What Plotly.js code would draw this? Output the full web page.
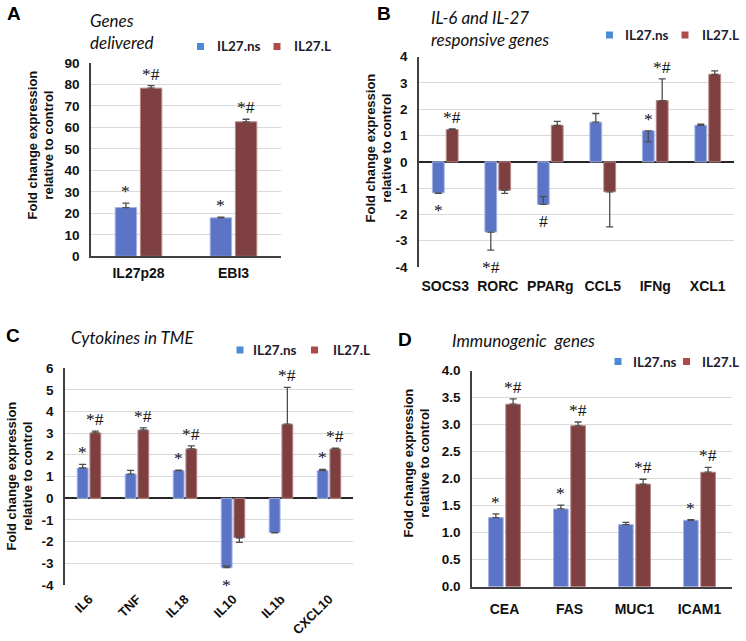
<!DOCTYPE html>
<html><head><meta charset="utf-8">
<script src="https://cdn.plot.ly/plotly-3.0.1.min.js"></script>
<style>html,body{margin:0;padding:0;background:#fff}#chart{width:746px;height:641px}</style>
</head><body><div id="chart"></div>
<script>
// ---------- DATA ----------
// Panel A: Genes delivered
const catA = ['IL27p28', 'EBI3'];
const nsA = [22.7, 17.9];
const nsAplus = [2.1, 0.3];
const nsAminus = [0, 0];
const lA = [78.3, 62.6];
const lAplus = [1.2, 1.2];
const lAminus = [0, 0];
const sigNsA = ['*', '*'];
const sigLA = ['*#', '*#'];
const ticksA = [0, 10, 20, 30, 40, 50, 60, 70, 80, 90];

// Panel B: IL-6 and IL-27 responsive genes
const catB = ['SOCS3', 'RORC', 'PPARg', 'CCL5', 'IFNg', 'XCL1'];
const nsB = [-1.18, -2.67, -1.62, 1.51, 1.18, 1.39];
const nsBplus = [0, 0, 0.30, 0.33, 0, 0.04];
const nsBminus = [0.02, 0.69, 0, 0, 0.42, 0];
const lB = [1.23, -1.08, 1.39, -1.14, 2.33, 3.33];
const lBplus = [0.02, 0, 0.15, 0, 0.83, 0.13];
const lBminus = [0, 0.12, 0, 1.33, 0, 0];
const sigNsB = ['*', '*#', '#', '', '*', ''];
const sigLB = ['*#', '', '', '', '*#', ''];
const ticksB = [-4, -3, -2, -1, 0, 1, 2, 3, 4];

// Panel C: Cytokines in TME
const catC = ['IL6', 'TNF', 'IL18', 'IL10', 'IL1b', 'CXCL10'];
const nsC = [1.40, 1.12, 1.28, -3.20, -1.58, 1.28];
const nsCplus = [0.17, 0.17, 0.02, 0.08, 0, 0.06];
const nsCminus = [0, 0, 0, 0, 0.01, 0];
const lC = [3.02, 3.15, 2.28, -1.82, 3.42, 2.28];
const lCplus = [0.08, 0.10, 0.14, 0, 1.70, 0.04];
const lCminus = [0, 0, 0, 0.21, 0, 0];
const sigNsC = ['*', '', '*', '*', '', '*'];
const sigLC = ['*#', '*#', '*#', '', '*#', '*#'];
const ticksC = [-4, -3, -2, -1, 0, 1, 2, 3, 4, 5, 6];

// Panel D: Immunogenic genes
const catD = ['CEA', 'FAS', 'MUC1', 'ICAM1'];
const nsD = [1.28, 1.44, 1.15, 1.23];
const nsDplus = [0.07, 0.07, 0.04, 0.01];
const nsDminus = [0, 0, 0, 0];
const lD = [3.38, 2.98, 1.90, 2.12];
const lDplus = [0.10, 0.07, 0.09, 0.09];
const lDminus = [0, 0, 0, 0];
const sigNsD = ['*', '*', '', '*'];
const sigLD = ['*#', '*#', '*#', '*#'];
const ticksD = [0, 0.5, 1, 1.5, 2, 2.5, 3, 3.5, 4];

const seriesNames = ['IL27.ns', 'IL27.L'];
const yTitle = 'Fold change expression<br>relative to control';

// ---------- STYLE / LAYOUT ----------
const W = 746, H = 641;
const fx = p => p / W;
const fy = p => 1 - p / H;
const SANS = 'Liberation Sans, Arial, sans-serif';
const SERIF = 'Liberation Serif, Times New Roman, serif';
const BLUE = '#5b74c6', BLUE_EDGE = '#a3b3e4';
const RED = '#7e3f40', RED_EDGE = '#b88888';
const LEG_BLUE = '#4a8ad6', LEG_RED = '#b04a4a';
const BARGAP = 0.47, GROUPGAP = 0.15;
const OFF = (1 - BARGAP) / 4;

const panels = [
  {key: '', cats: catA, ns: nsA, nsP: nsAplus, nsM: nsAminus, l: lA, lP: lAplus, lM: lAminus,
   sNs: sigNsA, sL: sigLA, box: [91, 281, 63, 256.3], range: [0, 90], tv: ticksA, dec: 0,
   base: true, ang: 0, xs: 3, xf: 14, letter: 'A', lpos: [5, 13.5], sub: 'Genes<br>delivered', spos: [88, 31.5],
   ytp: [40.5, 145], leg: [197, 215, 273.5, 291.5, 46.5]},
  {key: '2', cats: catB, ns: nsB, nsP: nsBplus, nsM: nsBminus, l: lB, lP: lBplus, lM: lBminus,
   sNs: sigNsB, sL: sigLB, box: [419, 734, 56.7, 267], range: [-4, 4], tv: ticksB, dec: 0,
   base: false, ang: 0, xs: 9, xf: 14, letter: 'B', lpos: [375, 13.5], sub: 'IL-6 and IL-27<br>responsive genes', spos: [429, 28],
   ytp: [378.5, 148], leg: [606, 623, 681.5, 700, 35]},
  {key: '3', cats: catC, ns: nsC, nsP: nsCplus, nsM: nsCminus, l: lC, lP: lCplus, lM: lCminus,
   sNs: sigNsC, sL: sigLC, box: [65, 353, 368.3, 585], range: [-4, 6], tv: ticksC, dec: 0,
   base: false, ang: -45, xs: 3, xf: 13, letter: 'C', lpos: [4, 335.5], sub: 'Cytokines in TME', spos: [69, 337],
   ytp: [19.5, 476], leg: [236.5, 250.5, 311, 331, 350]},
  {key: '4', cats: catD, ns: nsD, nsP: nsDplus, nsM: nsDminus, l: lD, lP: lDplus, lM: lDminus,
   sNs: sigNsD, sL: sigLD, box: [472, 732, 370.7, 586.7], range: [0, 4], tv: ticksD, dec: 1,
   base: true, ang: 0, xs: 9, xf: 14, letter: 'D', lpos: [396, 339], sub: 'Immunogenic\u00a0 genes', spos: [450, 340],
   ytp: [416.5, 463], leg: [614.5, 631, 683, 699.5, 361.5]}
];

const traces = [];
const layout = {
  width: W, height: H, autosize: false,
  margin: {l: 0, r: 0, t: 0, b: 0},
  paper_bgcolor: '#fff', plot_bgcolor: '#fff',
  barmode: 'group', bargap: BARGAP, bargroupgap: GROUPGAP,
  showlegend: false,
  annotations: [], shapes: []
};

// white mask behind legend D (covers the top gridline like the original)
layout.shapes.push({type: 'rect', xref: 'paper', yref: 'paper', layer: 'above',
  x0: fx(602), x1: fx(744), y0: fy(374), y1: fy(352), fillcolor: '#fff', line: {width: 0}});

const errStyle = {color: '#4d4d4d', thickness: 1.3, width: 3.5};

panels.forEach(p => {
  const xa = 'x' + p.key, ya = 'y' + p.key;
  traces.push({type: 'bar', name: seriesNames[0], x: p.cats, y: p.ns, xaxis: xa, yaxis: ya,
    marker: {color: BLUE, line: {color: BLUE_EDGE, width: 1}},
    error_y: Object.assign({type: 'data', symmetric: false, array: p.nsP, arrayminus: p.nsM, visible: true}, errStyle),
    hoverinfo: 'x+y+name'});
  traces.push({type: 'bar', name: seriesNames[1], x: p.cats, y: p.l, xaxis: xa, yaxis: ya,
    marker: {color: RED, line: {color: RED_EDGE, width: 1}},
    error_y: Object.assign({type: 'data', symmetric: false, array: p.lP, arrayminus: p.lM, visible: true}, errStyle),
    hoverinfo: 'x+y+name'});

  layout['xaxis' + p.key] = {
    domain: [fx(p.box[0]), fx(p.box[1])], anchor: ya, type: 'category',
    showgrid: false, zeroline: false, showline: p.base, linecolor: '#404040', linewidth: 1.5,
    ticks: '', tickangle: p.ang, ticklabelstandoff: p.xs,
    tickfont: {family: SANS, size: p.xf, color: '#111', weight: 'bold'}, fixedrange: true
  };
  layout['yaxis' + p.key] = {
    domain: [fy(p.box[3]), fy(p.box[2])], anchor: xa, range: p.range,
    tickmode: 'array', tickvals: p.tv, ticktext: p.tv.map(v => v.toFixed(p.dec)),
    showgrid: true, gridcolor: '#d9d9d9', gridwidth: 1.3,
    zeroline: !p.base, zerolinecolor: '#262626', zerolinewidth: 1.5,
    showline: true, linecolor: '#404040', linewidth: 1.5,
    ticks: '', ticklabelstandoff: 7,
    tickfont: {family: SANS, size: 13.5, color: '#111', weight: 'bold'}, fixedrange: true
  };

  // significance marks
  const addSig = (labels, vals, plus, minus, off) => {
    labels.forEach((s, i) => {
      if (!s) return;
      const v = vals[i];
      const pos = v >= 0;
      layout.annotations.push({
        xref: xa, yref: ya, x: i + off, y: pos ? v + plus[i] : v - minus[i],
        text: s, showarrow: false, xanchor: 'center', yanchor: pos ? 'bottom' : 'top',
        yshift: pos ? 0 : -5, font: {family: SERIF, size: 17.5, color: '#111'}
      });
    });
  };
  addSig(p.sNs, p.ns, p.nsP, p.nsM, -OFF);
  addSig(p.sL, p.l, p.lP, p.lM, OFF);

  // panel letter
  layout.annotations.push({xref: 'paper', yref: 'paper', x: fx(p.lpos[0]), y: fy(p.lpos[1]),
    xanchor: 'left', yanchor: 'middle', showarrow: false, text: p.letter,
    font: {family: SANS, size: 19, color: '#000', weight: 'bold'}});
  // italic subtitle
  layout.annotations.push({xref: 'paper', yref: 'paper', x: fx(p.spos[0]), y: fy(p.spos[1]),
    xanchor: 'left', yanchor: 'middle', align: 'left', showarrow: false, text: '<i>' + p.sub + '</i>',
    font: {family: 'Lato, Liberation Sans, sans-serif', size: 17, color: '#111'}});
  // y-axis title
  layout.annotations.push({xref: 'paper', yref: 'paper', x: fx(p.ytp[0]), y: fy(p.ytp[1]),
    xanchor: 'center', yanchor: 'middle', align: 'center', textangle: -90, showarrow: false,
    text: yTitle, font: {family: SANS, size: 13, color: '#111', weight: 'bold'}});
  // custom legend
  const L = p.leg, S = 7;
  [[L[0], LEG_BLUE, L[1], seriesNames[0]], [L[2], LEG_RED, L[3], seriesNames[1]]].forEach(e => {
    layout.shapes.push({type: 'rect', xref: 'paper', yref: 'paper', layer: 'above',
      x0: fx(e[0]), x1: fx(e[0] + S), y0: fy(L[4] + S / 2), y1: fy(L[4] - S / 2),
      fillcolor: e[1], line: {width: 0}});
    layout.annotations.push({xref: 'paper', yref: 'paper', x: fx(e[2]), y: fy(L[4]),
      xanchor: 'left', yanchor: 'middle', showarrow: false, text: e[3],
      font: {family: 'Lato, Liberation Sans, sans-serif', size: 13.5, color: '#1c1c2e', weight: 'bold'}});
  });
});

Plotly.newPlot('chart', traces, layout, {displayModeBar: false, responsive: false});
</script>
</body></html>
